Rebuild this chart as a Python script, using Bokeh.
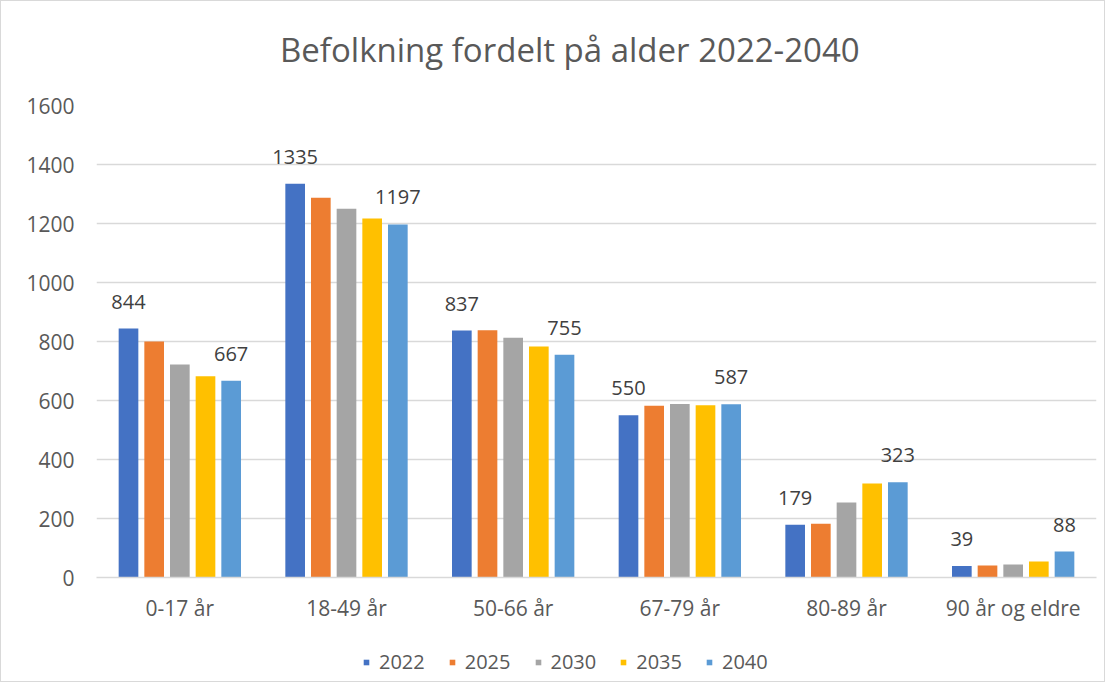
from bokeh.plotting import figure
from bokeh.layouts import column
from bokeh.models import ColumnDataSource, Legend, LegendItem, LabelSet, FixedTicker, Range1d, Div
from bokeh.embed import file_html
from bokeh.resources import INLINE
from bokeh.core.properties import value

title_text = "Befolkning fordelt på alder 2022-2040"
categories = ["0-17 år", "18-49 år", "50-66 år", "67-79 år", "80-89 år", "90 år og eldre"]
years = ["2022", "2025", "2030", "2035", "2040"]
v2022 = [844, 1335, 837, 550, 179, 39]
v2025 = [800, 1287, 838, 582, 182, 41]
v2030 = [722, 1250, 813, 588, 254, 44]
v2035 = [682, 1217, 783, 584, 319, 54]
v2040 = [667, 1197, 755, 587, 323, 88]
series = [v2022, v2025, v2030, v2035, v2040]
colors = ["#4472C4", "#ED7D31", "#A5A5A5", "#FFC000", "#5B9BD5"]
labelled = {"2022", "2040"}

FONT = "Open Sans"
W = 1103

# title
ts = Div(text=title_text, width=W, height=80, margin=0,
         styles={"font-family": FONT, "font-size": "33px", "color": "#595959",
                 "line-height": "45px", "padding-left": "279px", "padding-top": "26px",
                 "box-sizing": "border-box", "white-space": "nowrap",
                 "background-color": "white"})

# main chart
p = figure(frame_width=1000, frame_height=472, output_backend="svg", toolbar_location=None,
           x_range=Range1d(0, 6), y_range=Range1d(0, 1600),
           min_border_left=95, min_border_right=8, min_border_top=24, min_border_bottom=62)

bar_w = 0.118
step = 0.154
for i, (yr, vals, col) in enumerate(zip(years, series, colors)):
    xs = [c + 0.5 + (i - 2) * step for c in range(len(categories))]
    src = ColumnDataSource(dict(x=xs, top=vals, lab=[str(v) for v in vals]))
    p.vbar(x="x", top="top", width=bar_w, bottom=0, source=src,
           fill_color=col, line_color=None)
    if yr in labelled:
        ls = LabelSet(x="x", y="top", text="lab", source=src, text_align="center",
                      text_baseline="bottom", y_offset=20, text_font=value(FONT),
                      text_font_size="20px", text_color="#404040")
        p.add_layout(ls)

p.xaxis.ticker = FixedTicker(ticks=[c + 0.5 for c in range(len(categories))])
p.xaxis.major_label_overrides = {c + 0.5: lab for c, lab in enumerate(categories)}
p.yaxis.ticker = FixedTicker(ticks=list(range(0, 1601, 200)))

for ax in (p.xaxis, p.yaxis):
    ax.major_tick_line_color = None
    ax.minor_tick_line_color = None
    ax.major_label_text_font = FONT
    ax.major_label_text_font_size = "21px"
    ax.major_label_text_color = "#595959"
p.yaxis.major_label_standoff = 16
p.xaxis.major_label_standoff = 10
p.yaxis.axis_line_color = None
p.xaxis.axis_line_color = "#d9d9d9"
p.xaxis.axis_line_width = 1.5

p.xgrid.grid_line_color = None
p.ygrid.grid_line_color = "#d9d9d9"
p.ygrid.grid_line_width = 1.5
p.outline_line_color = None
p.border_fill_color = "white"

# legend strip
lg = figure(frame_width=W, frame_height=42, output_backend="svg", toolbar_location=None,
            x_range=Range1d(0, 1), y_range=Range1d(0, 1),
            x_axis_location=None, y_axis_location=None,
            min_border_left=0, min_border_right=0, min_border_top=0, min_border_bottom=0)
lg.xgrid.grid_line_color = None
lg.ygrid.grid_line_color = None
lg.outline_line_color = None
items = []
for yr, col in zip(years, colors):
    r = lg.scatter(x=[-5], y=[-5], marker="square", size=14, fill_color=col, line_color=None)
    items.append(LegendItem(label=yr, renderers=[r]))
legend = Legend(items=items, orientation="horizontal", location=(358, 6),
                label_text_font=FONT, label_text_font_size="20px",
                label_text_color="#595959", glyph_width=14, glyph_height=14,
                spacing=20, border_line_color=None, background_fill_alpha=0,
                margin=0, padding=4, label_standoff=6)
lg.add_layout(legend, "center")

layout = column(ts, p, lg, spacing=0)
layout.styles = {"border": "1px solid #d9d9d9", "background-color": "white"}

open("out.html", "w").write(file_html(layout, INLINE))
